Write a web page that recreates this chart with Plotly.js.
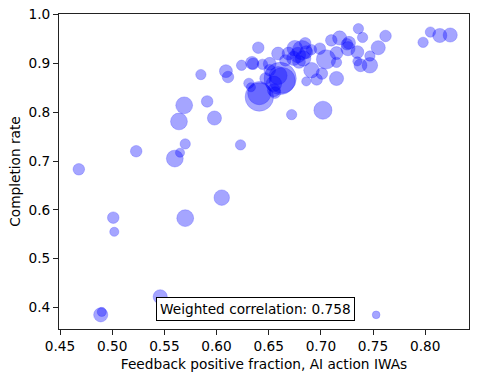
<!DOCTYPE html>
<html>
<head>
<meta charset="utf-8">
<script src="https://cdn.plot.ly/plotly-3.0.1.min.js"></script>
<style>
  html, body { margin: 0; padding: 0; background: #fff; }
  #chart { width: 479px; height: 380px; }
</style>
</head>
<body>
<div id="chart"></div>
<script>
// feedback positive fraction (AI action IWAs) per occupation
const feedbackPos = [
  0.468, 0.523, 0.560, 0.565, 0.570, 0.564, 0.569, 0.598, 0.591, 0.585,
  0.609, 0.611, 0.624, 0.623, 0.634, 0.635, 0.640, 0.501, 0.502, 0.489,
  0.490, 0.546, 0.570, 0.605, 0.753, 0.631, 0.633, 0.641, 0.641, 0.661,
  0.663, 0.659, 0.651, 0.659, 0.669, 0.682, 0.678, 0.685, 0.679, 0.683,
  0.691, 0.655, 0.647, 0.655, 0.651, 0.656, 0.672, 0.686, 0.696, 0.701,
  0.705, 0.715, 0.715, 0.715, 0.710, 0.718, 0.727, 0.725, 0.726, 0.735,
  0.736, 0.740, 0.747, 0.735, 0.738, 0.747, 0.755, 0.762, 0.798, 0.805,
  0.814, 0.824, 0.699, 0.691, 0.702, 0.675, 0.686, 0.674, 0.666, 0.644
];

// completion rate per occupation
const completion = [
  0.683, 0.720, 0.705, 0.717, 0.735, 0.781, 0.814, 0.788, 0.822, 0.877,
  0.884, 0.872, 0.896, 0.733, 0.901, 0.899, 0.932, 0.584, 0.555, 0.385,
  0.391, 0.422, 0.583, 0.625, 0.385, 0.859, 0.851, 0.831, 0.839, 0.869,
  0.865, 0.875, 0.899, 0.920, 0.920, 0.927, 0.917, 0.941, 0.903, 0.910,
  0.886, 0.858, 0.869, 0.845, 0.886, 0.840, 0.795, 0.863, 0.867, 0.879,
  0.908, 0.921, 0.902, 0.869, 0.947, 0.952, 0.942, 0.939, 0.930, 0.923,
  0.971, 0.953, 0.915, 0.904, 0.896, 0.896, 0.932, 0.956, 0.943, 0.964,
  0.957, 0.958, 0.930, 0.928, 0.804, 0.931, 0.923, 0.910, 0.906, 0.898
];

// weight (number of conversations) per occupation
const weights = [
  40, 40, 85, 25, 32, 85, 85, 60, 40, 32,
  50, 40, 32, 32, 50, 40, 40, 40, 25, 60,
  25, 60, 85, 72, 18, 32, 25, 242, 162, 312,
  200, 98, 50, 50, 50, 112, 72, 40, 50, 72,
  72, 72, 40, 50, 40, 40, 32, 25, 40, 40,
  112, 50, 32, 60, 40, 60, 50, 40, 60, 50,
  32, 32, 32, 25, 50, 72, 60, 40, 32, 32,
  60, 60, 40, 32, 98, 72, 50, 60, 40, 32
];

const corrText = 'Weighted correlation: 0.758';

const font = 'DejaVu Sans, Liberation Sans, sans-serif';
const fs = 13.7;

const trace = {
  x: feedbackPos,
  y: completion,
  type: 'scatter',
  mode: 'markers',
  marker: {
    size: weights,
    sizemode: 'area',
    sizeref: 0.6,
    color: 'rgba(0,0,255,0.5)',
    line: { color: 'rgba(0,0,255,0.3)', width: 1 }
  },
  hoverinfo: 'x+y'
};

const axisBase = {
  showline: true,
  mirror: true,
  linecolor: '#222',
  linewidth: 1,
  ticks: 'outside',
  ticklen: 5,
  tickwidth: 1,
  tickcolor: '#222',
  showgrid: false,
  zeroline: false,
  tickfont: { family: font, size: fs, color: '#000' }
};

const layout = {
  width: 479,
  height: 380,
  margin: { l: 59, r: 10, t: 14, b: 51 },
  paper_bgcolor: '#fff',
  plot_bgcolor: '#fff',
  showlegend: false,
  xaxis: Object.assign({}, axisBase, {
    range: [0.449, 0.842],
    dtick: 0.05,
    tick0: 0.45,
    tickformat: '.2f',
    title: { text: 'Feedback positive fraction, AI action IWAs', font: { family: font, size: fs, color: '#000' }, standoff: 5 }
  }),
  yaxis: Object.assign({}, axisBase, {
    range: [0.356, 1.001],
    dtick: 0.1,
    tick0: 0.4,
    tickformat: '.1f',
    title: { text: 'Completion rate', font: { family: font, size: fs, color: '#000' }, standoff: 4 }
  }),
  annotations: [{
    xref: 'paper', yref: 'paper',
    x: 0.479, y: 0.062,
    xanchor: 'center', yanchor: 'middle',
    text: corrText,
    showarrow: false,
    font: { family: font, size: fs, color: '#000' },
    bgcolor: '#fff',
    bordercolor: '#000',
    borderwidth: 1,
    borderpad: 3
  }]
};

Plotly.newPlot('chart', [trace], layout, { displayModeBar: false, staticPlot: true });
</script>
</body>
</html>
